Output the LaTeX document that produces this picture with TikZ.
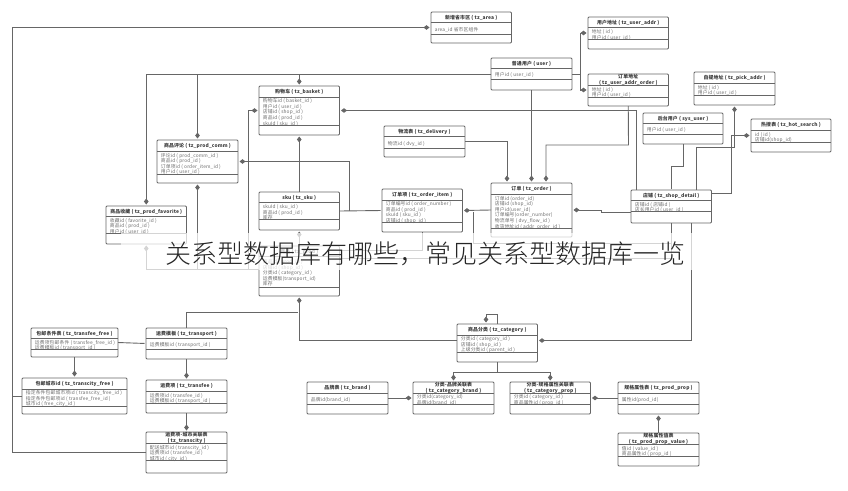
\documentclass[tikz,border=0pt]{standalone}
\usepackage{fontspec}
\setmainfont[LetterSpace=3]{Noto Sans CJK SC}
\newfontfamily\bannerfont{Noto Sans CJK SC Light}
\usetikzlibrary{arrows.meta}

\definecolor{linegray}{HTML}{666666}
\definecolor{attrgray}{HTML}{6C6C6C}
\definecolor{titlegray}{HTML}{3A3A3A}

\tikzset{
    tablebox/.style={draw=linegray,line width=0.9pt,rounded corners=1pt,fill=white,inner sep=0,outer sep=0,anchor=north west},
    tablerule/.style={draw=linegray,line width=0.9pt},
    tabletitle/.style={inner sep=0,align=center,text=titlegray,font=\fontsize{4.9}{5.7}\selectfont\bfseries},
    tableattr/.style={inner sep=0,align=left,anchor=west,text=attrgray,font=\fontsize{4.8}{5.6}\selectfont},
    conn/.style={draw=linegray,line width=0.9pt,shorten >=1.5pt}
}

\newcommand{\dbtable}[8]{
        \node (#1) [tablebox,minimum width=#3pt,minimum height=#4pt] at (#2) {};
        \draw[tablerule] (#1.north west) ++(0,#5) -- ++(#3,0);
        \draw[tablerule] (#1.north west) ++(0,#6) -- ++(#3,0);
        \path (#1.north) ++(0,#5/2+0.4) node (#1title) [tabletitle] {#7};
        \path (#1.north west) ++(3.7,#5/2+#6/2+1.4) node (#1attr) [tableattr] {#8};
}

\begin{document}
\begin{tikzpicture}[x=1pt,y=-1pt,>={Diamond[length=6pt,width=4.6pt]}]
        \useasboundingbox (0,0) rectangle (848,490);

        \dbtable{area}{431,12}{80.5}{31}{10.5}{22}{新增省市区 ( tz\_area )}{area\_id 省市区组件}
        \dbtable{useraddr}{588,17}{80.5}{32}{10.5}{22.5}{用户地址 ( tz\_user\_addr )}{地址 ( id )\\用户id ( user\_id )}
        \dbtable{addrorder}{588,74}{80.5}{32}{11}{23}{订单地址\\( tz\_user\_addr\_order )}{地址 ( id )\\用户id ( user\_id )}
        \dbtable{user}{491,58}{81}{32}{10.5}{21}{普通用户 ( user )}{用户id ( user\_id )}
        \dbtable{pickaddr}{694,72}{81}{33}{11}{23}{自提地址 ( tz\_pick\_addr )}{地址 ( id )\\用户id ( user\_id )}
        \dbtable{sysuser}{643,113}{80}{31}{10.5}{21.5}{后台用户 ( sys\_user )}{用户id ( user\_id )}
        \dbtable{hotsearch}{751,119}{80}{33}{11}{23}{热搜表 ( tz\_hot\_search )}{id ( id )\\店铺id(shop\_id)}
        \dbtable{basket}{259,86}{80.5}{49}{11}{39}{购物车 ( tz\_basket )}{购物车id ( basket\_id )\\用户id ( user\_id )\\店铺id ( shop\_id )\\商品id ( prod\_id )\\skuId ( sku\_id )}
        \dbtable{delivery}{384,126}{81}{31}{10.5}{22}{物流表 ( tz\_delivery )}{物流id ( dvy\_id )}
        \dbtable{comm}{157,140}{81}{43}{11}{34}{商品评论 ( tz\_prod\_comm )}{评论id ( prod\_comm\_id )\\商品id ( prod\_id )\\订单项id ( order\_item\_id )\\用户id ( user\_id )}
        \dbtable{favorite}{106,206}{80.5}{38}{10.5}{27.5}{商品收藏 ( tz\_prod\_favorite )}{收藏id ( favorite\_id )\\商品id ( prod\_id )\\用户id ( user\_id )}
        \dbtable{sku}{259,192}{80.5}{38}{10.5}{27.5}{sku ( tz\_sku )}{skuId ( sku\_id )\\商品id ( prod\_id )\\库存}
        \dbtable{item}{382,189}{80.5}{43}{11}{33.5}{订单项 ( tz\_order\_item )}{订单编号id ( order\_number )\\商品id ( prod\_id )\\skuId ( sku\_id )\\店铺id ( shop\_id )}
        \dbtable{order}{491,183}{81}{54}{11}{45.5}{订单 ( tz\_order )}{订单id (order\_id)\\店铺id (shop\_id)\\用户id(user\_id)\\订单编号(order\_number)\\物流单号 ( dvy\_flow\_id )\\收货地址id ( addr\_order\_id )}
        \dbtable{shop}{631,190}{80.5}{33}{10.5}{21.5}{店铺 ( tz\_shop\_detail )}{店铺id ( 店铺id )\\店长用户id ( user\_id )}
        \dbtable{prod}{259,246}{80.5}{50}{10}{41}{商品 ( tz\_prod )}{商品id ( prod\_id )\\店铺id ( shop\_id )\\分类id ( category\_id )\\运费模板(transport\_id)\\库存}
        \dbtable{transfree}{31,328}{87}{29}{10.5}{21.5}{包邮条件表 ( tz\_transfee\_free )}{运费项包邮条件 ( transfee\_free\_id )\\运费模板id ( transport\_id )}
        \dbtable{transcityfree}{22,378}{105}{36}{11}{28}{包邮城市id ( tz\_transcity\_free )}{指定条件包邮城市项id ( transcity\_free\_id )\\指定条件包邮项id ( transfee\_free\_id )\\城市id ( free\_city\_id )}
        \dbtable{transport}{146,328}{81}{31}{10.5}{21.5}{运费模板 ( tz\_transport )}{运费模板id ( transport\_id )}
        \dbtable{transfee}{146,380}{81}{33}{11}{23}{运费项 ( tz\_transfee )}{运费项id ( transfee\_id )\\运费模板id ( transport\_id )}
        \dbtable{transcity}{146,432}{81}{41}{11}{28.5}{运费项-城市关联表\\( tz\_transcity )}{配送城市id ( transcity\_id )\\运费项id ( transfee\_id )\\城市id ( city\_id )}
        \dbtable{brand}{307,382}{81}{32}{11}{22.5}{品牌表 ( tz\_brand )}{品牌id(brand\_id)}
        \dbtable{catbrand}{413,382}{81}{32}{11}{22.5}{分类-品牌关联表\\( tz\_category\_brand )}{分类id(category\_id)\\品牌id(brand\_id)}
        \dbtable{catprop}{510,382}{80.5}{32}{11}{22.5}{分类-规格属性关联表\\( tz\_category\_prop )}{分类id ( category\_id )\\商品属性id ( prop\_id )}
        \dbtable{prodprop}{618,382}{81}{32}{11}{22.5}{规格属性表 ( tz\_prod\_prop )}{属性id(prod\_id)}
        \dbtable{propvalue}{618,433}{81}{33}{11}{23}{规格属性值表\\( tz\_prod\_prop\_value )}{值id ( value\_id )\\商品属性id ( prop\_id )}
        \dbtable{category}{457,324}{80.5}{38}{11}{28}{商品分类 ( tz\_category )}{分类id ( category\_id )\\店铺id ( shop\_id )\\上级分类id ( parent\_id )}

        \coordinate (lefttop) at (12,27.5);
        \coordinate (shopa) at (636,190);
        \coordinate (shopb) at (671,190);
        \coordinate (shopc) at (696,190);
        \coordinate (shopd) at (711,193);
        \coordinate (shope) at (631,212);
        \coordinate (shopf) at (671,223);
        \coordinate (shopg) at (691,223);
        \coordinate (orderb) at (507,183);
        \coordinate (orderc) at (546,183);
        \coordinate (proda) at (259,269);
        \coordinate (prodb) at (339.5,250);
        \coordinate (prodc) at (339.5,258);
        \coordinate (catw) at (457,340.5);
        \coordinate (cate) at (537.5,340.5);
        \coordinate (catself) at (486,324);
        \coordinate (bendorder) at (628.5,145);
        \coordinate (bendsys) at (683,166);
        \coordinate (bendpick) at (696,147);
        \coordinate (bendhot) at (731,135.5);
        \coordinate (bendshop) at (601,212);
        \coordinate (bendbasket) at (248,110.5);
        \coordinate (bendsku) at (349,210.5);
        \coordinate (bendtrans) at (299,312);
        \coordinate (bendfee) at (671,243);
        \coordinate (itembus) at (473,210.5);

        \draw[conn,->] (transcity.west) -| (lefttop) -- (area.west);
        \draw[conn] (transcityfree.west) -| (lefttop);
        \draw[conn,->] (user.west) -| (favorite.north);
        \draw[conn,->] (user.west) -| (comm.north);
        \draw[conn,->] (user.west) -| (basket.north);
        \draw[conn,->] (user.south) -- (order.north);
        \draw[conn,->] (user.east) -- ++(8,0) |- (useraddr.west);
        \draw[conn,->] (user.east) -- ++(8,0) |- (addrorder.west);
        \draw[conn,->] (shopa) |- (basket.east);
        \draw[conn,->] (delivery.east) -| (orderb);
        \draw[conn,->] (addrorder.south) -- (bendorder) -| (orderc);
        \draw[conn] (sysuser.south) -- (bendsys) -| (shopb);
        \draw[conn,->] (shopc) -- (bendpick) -| (pickaddr.south);
        \draw[conn,->] (shopd) -| (bendhot) -- (hotsearch.west);
        \draw[conn,->] (shope) -- (bendshop) |- (order.east);
        \draw[conn,->] (order.west) -- (item.east);
        \draw[conn] (shopf) -- (bendfee) -| (itembus);
        \draw[conn] (shopf) |- (prodc);
        \draw[conn] (item.south) |- (prodb);
        \draw[conn,->] (sku.north) -- (basket.south);
        \draw[conn,->] (prod.north) -- (sku.south);
        \draw[conn] (sku.east) -- (item.west);
        \draw[conn,->] (bendsku) |- (comm.east);
        \draw[conn,->] (proda) -| (comm.south);
        \draw[conn,->] (proda) -| (favorite.south);
        \draw[conn,->] (proda) -| (bendbasket) -- (basket.west);
        \draw[conn,->] (catw) -| (prod.south);
        \draw[conn] (transport.north) |- (bendtrans);
        \draw[conn,->] (shopg) |- (cate);
        \draw[conn,->] (category.north) -- ++(0,-10) -| (catself);
        \draw[conn,->] (category.south) -- ++(0,10) -| (catbrand.north);
        \draw[conn,->] (category.south) -- ++(0,10) -| (catprop.north);
        \draw[conn,->] (brand.east) -- (catbrand.west);
        \draw[conn,->] (prodprop.west) -- (catprop.east);
        \draw[conn,->] (propvalue.north) -- (prodprop.south);
        \draw[conn] (transfree.east) -- (transport.west);
        \draw[conn,->] (transfree.south) -- (transcityfree.north);
        \draw[conn,->] (transport.south) -- (transfee.north);
        \draw[conn,->] (transfee.south) -- (transcity.north);

        \node (veil) [fill=white,fill opacity=0.72,inner sep=0,minimum width=582pt,minimum height=37pt] at (412,251.5) {};
        \node (banner) [inner sep=0,text=black!85,font=\bannerfont\fontsize{26}{26}\selectfont] at (425,254) {关系型数据库有哪些，常见关系型数据库一览};
\end{tikzpicture}
\end{document}
